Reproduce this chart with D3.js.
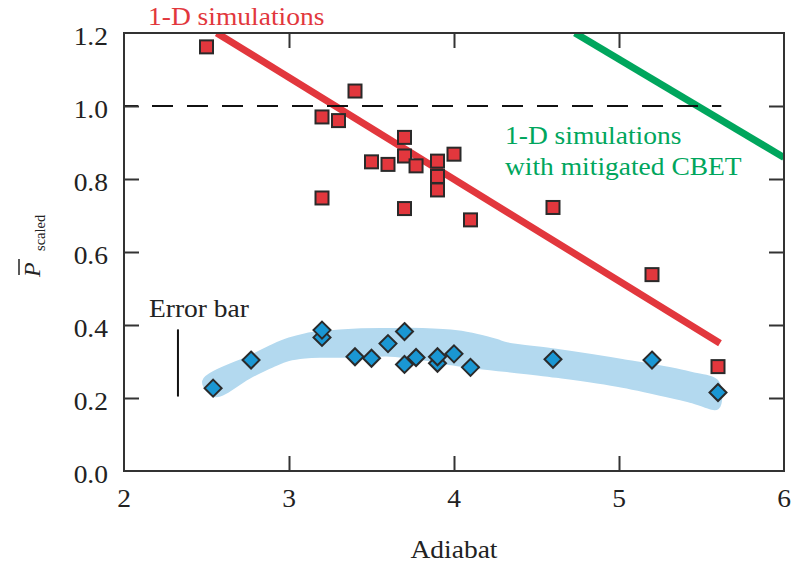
<!DOCTYPE html>
<html><head><meta charset="utf-8">
<script src="https://cdn.jsdelivr.net/npm/d3@7"></script>
<style>
body{margin:0;background:#fff}svg{display:block}
svg text{font-family:"Liberation Serif","LiberationSerif","Tinos","Times New Roman",Times,"Noto Serif","DejaVu Serif","FreeSerif",serif;}
</style>
</head><body>
<svg id="c" width="792" height="568"></svg>
<script>
// ---------- data ----------
const xTicks = [2, 3, 4, 5, 6];
const yTicks = [0.0, 0.2, 0.4, 0.6, 0.8, 1.0, 1.2];
const xTickLabels = ["2", "3", "4", "5", "6"];
const yTickLabels = ["0.0", "0.2", "0.4", "0.6", "0.8", "1.0", "1.2"];

// measured (red squares)
const sqX = [2.50, 3.20, 3.30, 3.40, 3.20, 3.50, 3.60, 3.70, 3.70, 3.77, 3.70, 3.90, 3.90, 3.90, 4.00, 4.10, 4.60, 5.20, 5.60];
const sqY = [1.162, 0.970, 0.960, 1.041, 0.748, 0.847, 0.840, 0.914, 0.863, 0.836, 0.719, 0.849, 0.807, 0.770, 0.868, 0.688, 0.722, 0.538, 0.286];

// blue diamonds
const dmX = [2.54, 2.77, 3.20, 3.20, 3.40, 3.50, 3.60, 3.70, 3.70, 3.77, 3.90, 3.90, 4.00, 4.10, 4.60, 5.20, 5.60];
const dmY = [0.227, 0.304, 0.366, 0.386, 0.313, 0.309, 0.349, 0.382, 0.292, 0.311, 0.295, 0.313, 0.321, 0.284, 0.306, 0.304, 0.215];

// 1-D simulations line
const simX = [2.562, 5.612];
const simY = [1.200, 0.350];
// 1-D simulations with mitigated CBET
const cbetX = [4.733, 6.000];
const cbetY = [1.200, 0.859];

// shaded band
const bandUpX = [2.48, 2.77, 2.90, 3.00, 3.10, 3.20, 3.41, 3.61, 3.81, 4.02, 4.15, 4.26, 4.32, 4.62, 5.02, 5.43, 5.60];
const bandUpY = [0.247, 0.316, 0.345, 0.363, 0.375, 0.381, 0.388, 0.389, 0.389, 0.383, 0.372, 0.359, 0.350, 0.332, 0.304, 0.270, 0.245];
const bandLoX = [2.55, 2.77, 2.90, 3.00, 3.10, 3.20, 3.41, 3.61, 3.81, 4.02, 4.62, 5.02, 5.43, 5.60];
const bandLoY = [0.205, 0.258, 0.286, 0.304, 0.311, 0.313, 0.313, 0.316, 0.306, 0.290, 0.258, 0.231, 0.190, 0.172];

// reference & error bar
const refY = 1.0, refX0 = 2.0, refX1 = 5.62;
const errX = 2.327, errLo = 0.204, errHi = 0.388;

// ---------- layout ----------
const L = 124, R = 784, T = 33, B = 471;
const SX = 1.1; // horizontal stretch of the serif text
const RED = "#e2373d", GREEN = "#00a65d", BLUE = "#1a97d3", BAND = "#b3d9ef", AX = "#333";

const svg = d3.select("#c");
const x = d3.scaleLinear().domain([2, 6]).range([L, R]);
const y = d3.scaleLinear().domain([0, 1.2]).range([B, T]);

svg.append("defs").append("clipPath").attr("id", "clip")
  .append("rect").attr("x", L).attr("y", T).attr("width", R - L).attr("height", B - T);

function stext(px, py, str, o = {}) {
  return svg.append("text")
    .attr("transform", `translate(${px},${py}) scale(${o.sx || SX},1)`)
    .attr("text-anchor", o.anchor || "start")
    .style("font-size", (o.size || 25) + "px")
    .attr("fill", o.fill || "#222")
    .text(str);
}

const plot = svg.append("g").attr("clip-path", "url(#clip)");

// band
const bandPts = bandUpX.map((v, i) => [v, bandUpY[i]])
  .concat(bandLoX.map((v, i) => [v, bandLoY[i]]).reverse());
plot.append("path")
  .attr("d", d3.line().x(d => x(d[0])).y(d => y(d[1])).curve(d3.curveCatmullRomClosed.alpha(0.5))(bandPts))
  .attr("fill", BAND).attr("stroke", BAND).attr("stroke-width", 2).attr("stroke-linejoin", "round");

// lines
const ln = d3.line().x(d => x(d[0])).y(d => y(d[1]));
plot.append("path").attr("d", ln(simX.map((v, i) => [v, simY[i]])))
  .attr("stroke", RED).attr("stroke-width", 7).attr("fill", "none");
plot.append("path").attr("d", ln(cbetX.map((v, i) => [v, cbetY[i]])))
  .attr("stroke", GREEN).attr("stroke-width", 7).attr("fill", "none");

// dashed reference
plot.append("line")
  .attr("x1", x(refX0)).attr("x2", x(refX1)).attr("y1", y(refY)).attr("y2", y(refY))
  .attr("stroke", "#111").attr("stroke-width", 2.2)
  .attr("stroke-dasharray", "21,14").attr("stroke-dashoffset", 7);

// squares
const S = 13;
svg.append("g").selectAll("rect").data(sqX.map((v, i) => [v, sqY[i]])).join("rect")
  .attr("x", d => x(d[0]) - S / 2).attr("y", d => y(d[1]) - S / 2)
  .attr("width", S).attr("height", S)
  .attr("fill", RED).attr("stroke", "#2a2a2a").attr("stroke-width", 2);

// diamonds
const D = 8.5;
svg.append("g").selectAll("path").data(dmX.map((v, i) => [v, dmY[i]])).join("path")
  .attr("d", d => `M${x(d[0])},${y(d[1]) - D}L${x(d[0]) + D},${y(d[1])}L${x(d[0])},${y(d[1]) + D}L${x(d[0]) - D},${y(d[1])}Z`)
  .attr("fill", BLUE).attr("stroke", "#2a2a2a").attr("stroke-width", 2).attr("stroke-linejoin", "miter");

// error bar
svg.append("line").attr("x1", x(errX)).attr("x2", x(errX)).attr("y1", y(errHi)).attr("y2", y(errLo))
  .attr("stroke", "#111").attr("stroke-width", 2);
stext(149, 317, "Error bar");

// frame and ticks
svg.append("rect").attr("x", L).attr("y", T).attr("width", R - L).attr("height", B - T)
  .attr("fill", "none").attr("stroke", AX).attr("stroke-width", 2);
const TK = 15;
const inner = xTicks.slice(1, -1);
const innerY = yTicks.slice(1, -1);
const styleAx = g => { g.select(".domain").remove(); g.selectAll("line").attr("stroke", AX).attr("stroke-width", 2); g.selectAll("text").remove(); };
svg.append("g").attr("transform", `translate(0,${B})`)
  .call(d3.axisBottom(x).tickValues(inner).tickSizeInner(-TK).tickSizeOuter(0)).call(styleAx);
svg.append("g").attr("transform", `translate(0,${T})`)
  .call(d3.axisTop(x).tickValues(inner).tickSizeInner(-TK).tickSizeOuter(0)).call(styleAx);
svg.append("g").attr("transform", `translate(${L},0)`)
  .call(d3.axisLeft(y).tickValues(innerY).tickSizeInner(-TK).tickSizeOuter(0)).call(styleAx);
svg.append("g").attr("transform", `translate(${R},0)`)
  .call(d3.axisRight(y).tickValues(innerY).tickSizeInner(-TK).tickSizeOuter(0)).call(styleAx);

// tick labels
xTicks.forEach((v, i) => stext(x(v), 507, xTickLabels[i], { anchor: "middle" }));
yTicks.forEach((v, i) => stext(L - 16, y(v) + 12, yTickLabels[i], { anchor: "end" }));

// axis titles
stext(454, 558, "Adiabat", { anchor: "middle" });
const yl = svg.append("g").attr("transform", "translate(40,277) rotate(-90)");
yl.append("text").attr("x", 0).attr("y", 0).style("font-style", "italic")
  .style("font-size", "24px").attr("fill", "#222").text("P");
yl.append("text").attr("x", 26).attr("y", 5)
  .style("font-size", "14.5px").attr("fill", "#222").text("scaled");
yl.append("line").attr("x1", 2).attr("x2", 18).attr("y1", -21).attr("y2", -21)
  .attr("stroke", "#222").attr("stroke-width", 1.5);

// series labels
stext(148, 25, "1-D simulations", { fill: RED });
stext(505, 144, "1-D simulations", { fill: GREEN });
stext(505, 175, "with mitigated CBET", { fill: GREEN });
</script>
</body></html>
